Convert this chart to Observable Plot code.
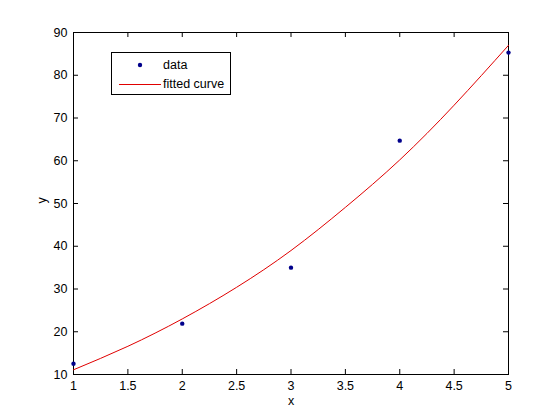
<!DOCTYPE html>
<html>
<head>
<meta charset="utf-8">
<script src="https://cdn.jsdelivr.net/npm/d3@7"></script>
<script src="https://cdn.jsdelivr.net/npm/@observablehq/plot@0.6"></script>
<style>
  html, body { margin: 0; padding: 0; background: #fff; }
  #chart { position: relative; width: 560px; height: 420px; }
  #legend {
    position: absolute; left: 111px; top: 52px; width: 120px; height: 43px;
    border: 1px solid #000; background: #fff; box-sizing: border-box;
    font-family: "Liberation Sans", Arial, sans-serif; font-size: 12.5px; color: #000;
  }
  #legend .row { position: absolute; left: 0; height: 16px; width: 100%; }
  #legend svg { position: absolute; left: 6px; top: 0; }
  #legend span { position: absolute; left: 51px; top: 0; line-height: 16px; }
</style>
</head>
<body>
<div id="chart"></div>
<script>
// Data
const dataX = [1, 2, 3, 4, 5];
const dataY = [12.5, 21.9, 35.0, 64.7, 85.3];

// Fitted curve at regular x positions
const curveX = [1, 1.5, 2, 2.5, 3, 3.5, 4, 4.5, 5];
const curveY = [11.1, 16.6, 23.0, 30.4, 39.0, 49.1, 60.2, 73.0, 87.0];

const xTicks = [1, 1.5, 2, 2.5, 3, 3.5, 4, 4.5, 5];
const yTicks = [10, 20, 30, 40, 50, 60, 70, 80, 90];

const seriesNames = ["data", "fitted curve"];
const dataColor = "#00008b";
const curveColor = "#e00000";

const points = dataX.map((x, i) => ({x, y: dataY[i]}));
const curve = curveX.map((x, i) => ({x, y: curveY[i]}));

const W = 560, H = 420;
const mL = 73, mT = 32, mR = 52, mB = 46;
const frameW = W - mL - mR, frameH = H - mT - mB;
const tick = 5;

const plot = Plot.plot({
  width: W, height: H,
  marginLeft: mL, marginTop: mT, marginRight: mR, marginBottom: mB,
  style: {fontFamily: "'Liberation Sans', Arial, sans-serif", fontSize: "12.5px", background: "#fff", color: "#000"},
  x: {domain: [1, 5], ticks: xTicks, tickFormat: d => String(d), label: null},
  y: {domain: [10, 90], ticks: yTicks, tickFormat: d => String(d), label: null},
  marks: [
    Plot.frame({stroke: "#000", strokeWidth: 1}),
    // inward ticks on all four sides
    Plot.ruleX(xTicks, {x: d => d, insetTop: frameH - tick, stroke: "#000"}),
    Plot.ruleX(xTicks, {x: d => d, insetBottom: frameH - tick, stroke: "#000"}),
    Plot.ruleY(yTicks, {y: d => d, insetRight: frameW - tick, stroke: "#000"}),
    Plot.ruleY(yTicks, {y: d => d, insetLeft: frameW - tick, stroke: "#000"}),
    Plot.axisX({ticks: xTicks, tickFormat: d => String(d), tickSize: 0, tickPadding: 7, label: null}),
    Plot.axisY({ticks: yTicks, tickFormat: d => String(d), tickSize: 0, tickPadding: 6, label: null}),
    Plot.text(["x"], {text: d => d, frameAnchor: "bottom", dy: 30, fontSize: 12.5}),
    Plot.text(["y"], {text: d => d, frameAnchor: "left", dx: -32, rotate: -90, fontSize: 12.5}),
    Plot.line(curve, {x: "x", y: "y", stroke: curveColor, strokeWidth: 1, curve: "natural"}),
    Plot.dot(points, {x: "x", y: "y", r: 2.2, fill: dataColor, stroke: "none"})
  ]
});
const chart = document.getElementById("chart");
chart.appendChild(plot);

// Legend (inside the axes, top-left)
const legend = document.createElement("div");
legend.id = "legend";
legend.innerHTML = `
  <div class="row" style="top:4px">
    <svg width="45" height="16"><circle cx="22" cy="8" r="2.2" fill="${dataColor}"/></svg>
    <span>${seriesNames[0]}</span>
  </div>
  <div class="row" style="top:23px">
    <svg width="45" height="16"><line x1="1" x2="43" y1="8.5" y2="8.5" stroke="${curveColor}" stroke-width="1"/></svg>
    <span>${seriesNames[1]}</span>
  </div>`;
chart.appendChild(legend);
</script>
</body>
</html>
